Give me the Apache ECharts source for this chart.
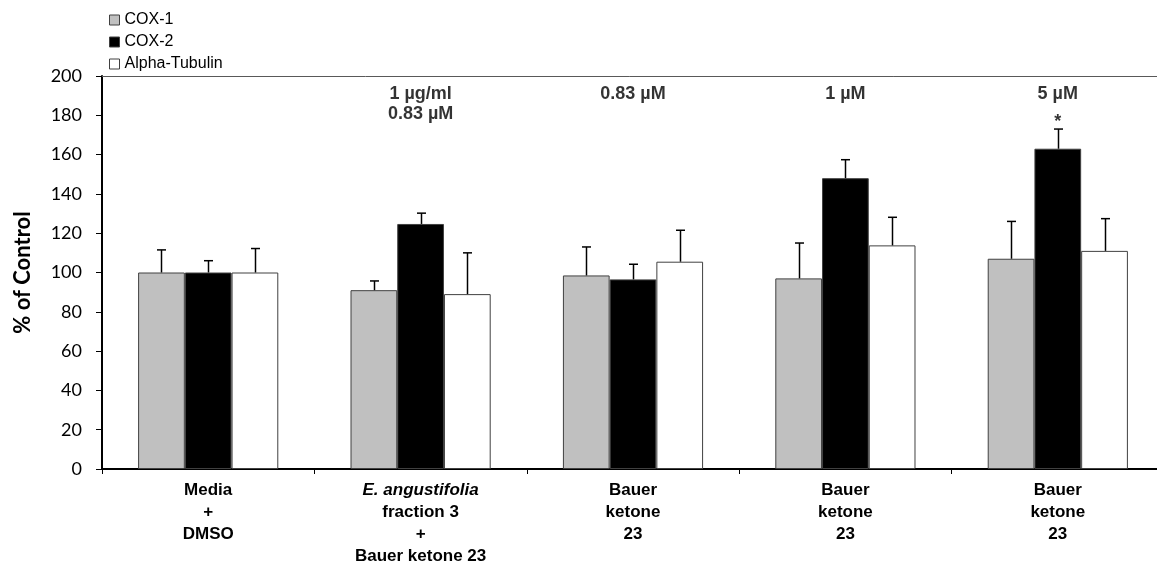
<!DOCTYPE html>
<html>
<head>
<meta charset="utf-8">
<script src="https://cdn.jsdelivr.net/npm/echarts@6/dist/echarts.min.js"></script>
<style>
html, body { margin: 0; padding: 0; background: #fff; }
#chart { width: 1157px; height: 568px; }
</style>
</head>
<body>
<div id="chart"></div>
<script>
const categories = [
    'Media\n+\nDMSO',
    'E. angustifolia\nfraction 3\n+\nBauer ketone 23',
    'Bauer\nketone\n23',
    'Bauer\nketone\n23',
    'Bauer\nketone\n23'
];
const doseLabels = ['', '1 µg/ml\n0.83 µM', '0.83 µM', '1 µM', '5 µM'];
const sigLabels = ['', '', '', '', '*'];
const cox1 = [100, 91, 98.5, 97, 107];
const cox1Err = [11.5, 4.7, 14.5, 18, 19];
const cox2 = [100, 124.7, 96.5, 148, 163];
const cox2Err = [6, 5.5, 7.7, 9.4, 10];
const tubulin = [100, 89, 105.5, 113.8, 111];
const tubulinErr = [12.2, 21, 16, 14.3, 16.4];
const yTicks = [0, 20, 40, 60, 80, 100, 120, 140, 160, 180, 200];

const LABEL_Y = 196;
const SIG_Y = 176.5;
const BAR_FRAC = 0.22; // bar width as fraction of the category band
const edge = '#404040';
const arial = '"Liberation Sans", Arial, sans-serif';
const calibri = 'Lato, "Open Sans", sans-serif';

const chart = echarts.init(document.getElementById('chart'));

// upward error bar with a cap, shifted to the bar's slot in the group
const errSeries = function (vals, errs, slot) {
    return {
        type: 'custom',
        silent: true,
        z: 5,
        data: vals.map((v, i) => [i, v, v + errs[i]]),
        renderItem: function (params, api) {
            const band = api.size([1, 0])[0];
            const dx = slot * band * BAR_FRAC;
            const p0 = api.coord([api.value(0), api.value(1)]);
            const p1 = api.coord([api.value(0), api.value(2)]);
            const x = Math.round(p0[0] + dx) + 0.5;
            const style = { stroke: '#000', lineWidth: 1.5 };
            return {
                type: 'group',
                children: [
                    { type: 'line', shape: { x1: x, y1: p0[1], x2: x, y2: p1[1] }, style: style },
                    { type: 'line', shape: { x1: x - 4.5, y1: p1[1], x2: x + 4.5, y2: p1[1] }, style: style }
                ]
            };
        }
    };
};

const barSeries = function (name, vals, color) {
    return {
        name: name,
        type: 'bar',
        data: vals,
        barGap: 0,
        barCategoryGap: '34%',
        itemStyle: { color: color, borderColor: edge, borderWidth: 1 }
    };
};

chart.setOption({
    animation: false,
    textStyle: { fontFamily: arial },
    legend: {
        orient: 'vertical',
        left: 104,
        top: 7,
        itemWidth: 10,
        itemHeight: 10,
        itemGap: 6,
        itemTextGap: 5,
        icon: 'rect',
        textStyle: { fontFamily: arial, fontSize: 16, color: '#000' },
        data: [
            { name: 'COX-1', itemStyle: { borderColor: edge, borderWidth: 1 } },
            { name: 'COX-2', itemStyle: { borderColor: edge, borderWidth: 1 } },
            { name: 'Alpha-Tubulin', itemStyle: { borderColor: edge, borderWidth: 1 } }
        ]
    },
    grid: { left: 102, right: -7, top: 76, bottom: 99, outerBoundsMode: 'none' },
    xAxis: [
        {
            type: 'category',
            data: categories,
            axisLine: { lineStyle: { color: '#000', width: 2 } },
            axisTick: { show: true, length: 5, lineStyle: { color: '#000', width: 1 } },
            axisLabel: {
                interval: 0,
                margin: 10,
                color: '#000',
                fontFamily: arial,
                fontWeight: 'bold',
                fontSize: 17,
                lineHeight: 22,
                formatter: function (v) {
                    return v.replace('E. angustifolia', '{i|E. angustifolia}');
                },
                rich: {
                    i: { fontStyle: 'italic', fontWeight: 'bold', fontSize: 17, fontFamily: arial, lineHeight: 22, color: '#000' }
                }
            }
        },
        {
            type: 'category',
            position: 'top',
            data: categories,
            axisLine: { lineStyle: { color: '#595959', width: 1 } },
            axisTick: { show: false },
            axisLabel: { show: false }
        }
    ],
    yAxis: {
        type: 'value',
        min: yTicks[0],
        max: yTicks[yTicks.length - 1],
        interval: 20,
        name: '% of Control',
        nameLocation: 'middle',
        nameGap: 68,
        nameTextStyle: { fontFamily: calibri, fontWeight: 'bold', fontSize: 22, color: '#000' },
        axisLine: { show: true, lineStyle: { color: '#000', width: 2 } },
        axisTick: { show: true, length: 6, lineStyle: { color: '#000', width: 1 } },
        axisLabel: { margin: 20, color: '#000', fontFamily: calibri, fontSize: 18 },
        splitLine: { show: false }
    },
    series: [
        barSeries('COX-1', cox1, '#c0c0c0'),
        barSeries('COX-2', cox2, '#000000'),
        barSeries('Alpha-Tubulin', tubulin, '#ffffff'),
        errSeries(cox1, cox1Err, -1),
        errSeries(cox2, cox2Err, 0),
        errSeries(tubulin, tubulinErr, 1),
        {
            type: 'scatter',
            silent: true,
            symbolSize: 0,
            data: doseLabels.map((t, i) => [i, LABEL_Y, t]),
            label: {
                show: true,
                position: 'bottom',
                distance: 0,
                formatter: p => p.data[2],
                fontFamily: arial,
                fontWeight: 'bold',
                fontSize: 18,
                lineHeight: 20,
                color: '#000'
            }
        },
        {
            type: 'scatter',
            silent: true,
            symbolSize: 0,
            data: sigLabels.map((t, i) => [i, SIG_Y, t]),
            label: {
                show: true,
                position: 'inside',
                formatter: p => p.data[2],
                fontFamily: arial,
                fontWeight: 'bold',
                fontSize: 18,
                color: '#000'
            }
        }
    ]
});
</script>
</body>
</html>
